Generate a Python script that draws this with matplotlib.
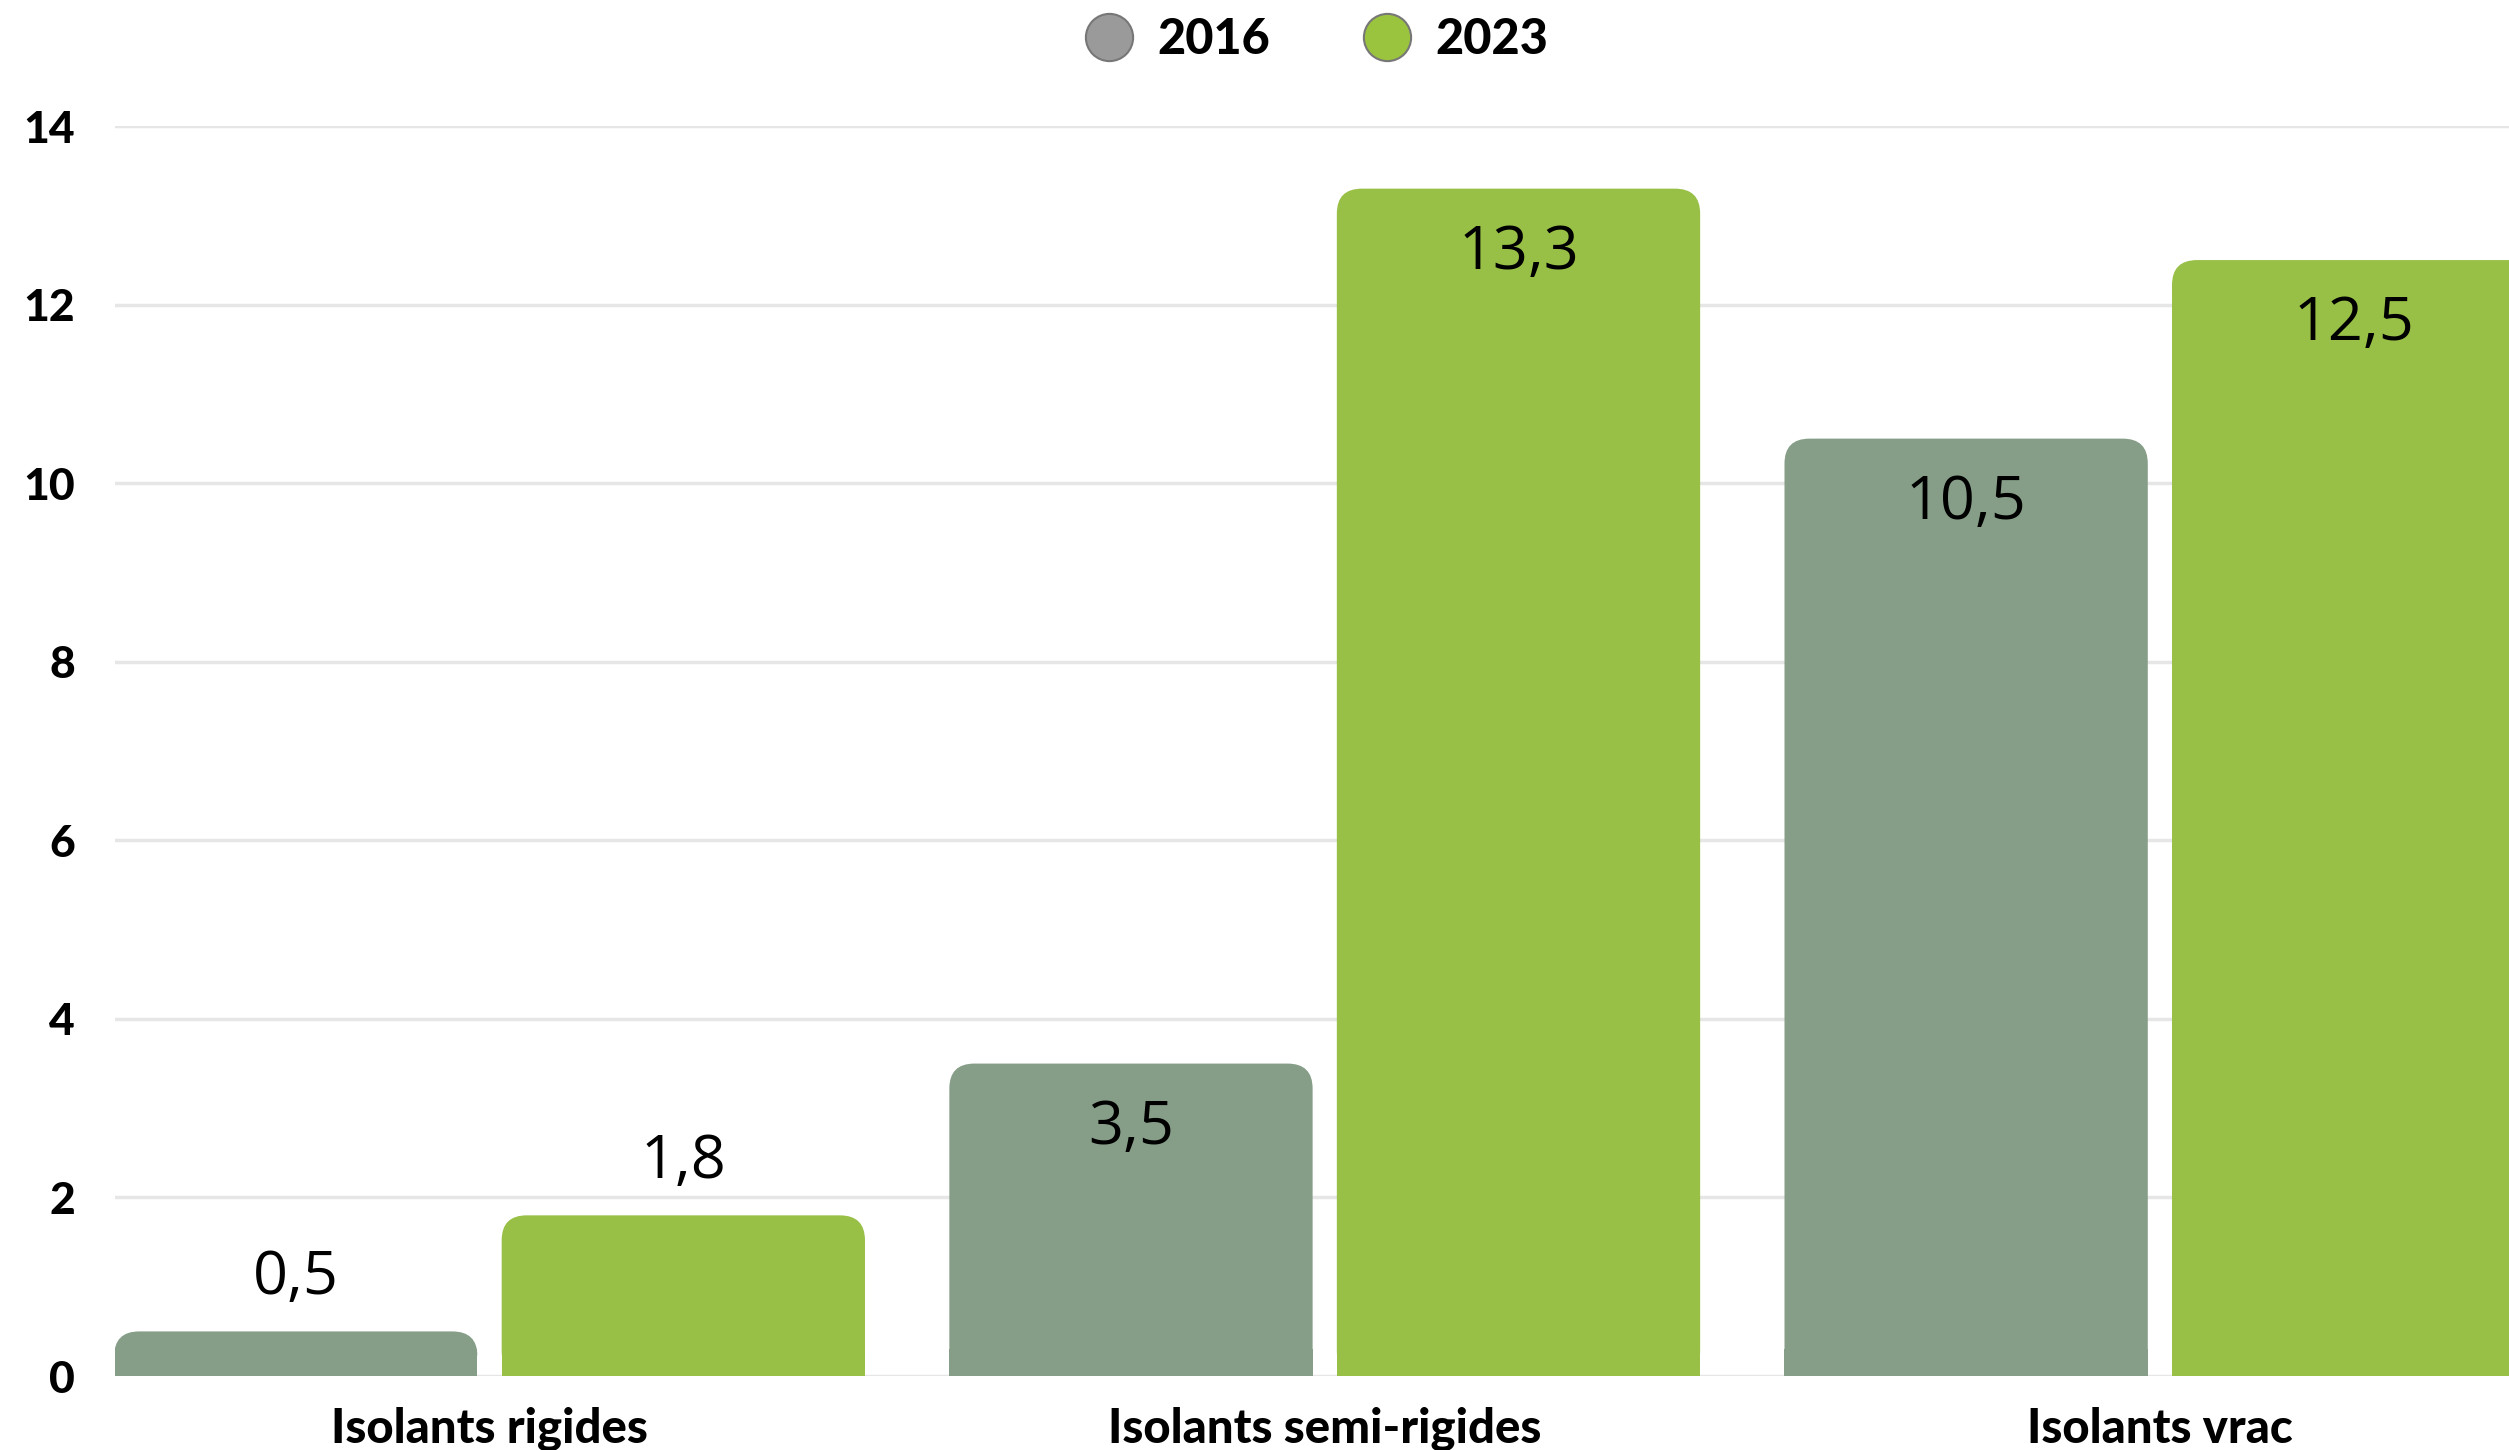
import matplotlib
matplotlib.use('Agg')
import matplotlib.pyplot as plt
from matplotlib.patches import FancyBboxPatch
from matplotlib.lines import Line2D
import numpy as np

# données
categories = ['Isolants rigides', 'Isolants semi-rigides', 'Isolants vrac']
years = ['2016', '2023']
vals_2016 = [0.5, 3.5, 10.5]
vals_2023 = [1.8, 13.3, 12.5]
labels_2016 = ['0,5', '3,5', '10,5']
labels_2023 = ['1,8', '13,3', '12,5']

col_2016 = '#869e88'
col_2023 = '#98bf46'
heavy = ['Lato', 'DejaVu Sans']
light = ['Open Sans', 'DejaVu Sans']

fig = plt.figure(figsize=(25.09, 14.5), dpi=100)
ax = fig.add_axes([0.046, 0.051, 0.954, 0.862])

x = np.arange(len(categories))
w = 0.435
off = 0.232
r = 0.03
asp = 9.3

for vals, labs, col, dx in [(vals_2016, labels_2016, col_2016, -off),
                            (vals_2023, labels_2023, col_2023, off)]:
    # petit bloc carré en bas pour cacher l'arrondi du bas
    ax.bar(x + dx, np.minimum(vals, 0.3), width=w, color=col, zorder=2)
    for xi, v, lab in zip(x, vals, labs):
        p = FancyBboxPatch((xi + dx - w / 2, 0), w, v,
                           boxstyle=f'round,pad=0,rounding_size={r}',
                           mutation_aspect=asp, facecolor=col,
                           edgecolor='none', zorder=2)
        ax.add_patch(p)
        if v > 3:
            ax.text(xi + dx, v - 0.72, lab, ha='center', va='center',
                    fontsize=44, family=light, color='black', zorder=3)
        else:
            ax.text(xi + dx, v + 0.6, lab, ha='center', va='center',
                    fontsize=44, family=light, color='black', zorder=3)

ax.set_xlim(-0.448, 2.418)
ax.set_ylim(0, 14)
ax.set_yticks(range(0, 15, 2))
ax.set_yticklabels([str(t) for t in range(0, 15, 2)], fontsize=32,
                   family=heavy, fontweight='black')
ax.set_xticks(x)
ax.set_xticklabels(categories, fontsize=34, family=heavy, fontweight='black')
ax.tick_params(length=0, pad=22)
ax.tick_params(axis='y', pad=29)
ax.grid(axis='y', color='#e6e6e6', linewidth=2.5, zorder=0)
ax.set_axisbelow(True)
for s in ax.spines.values():
    s.set_visible(False)

handles = [Line2D([], [], marker='o', linestyle='none', markersize=34,
                  markerfacecolor=c, markeredgecolor='#777777', markeredgewidth=1.5)
           for c in ('#9a9a9a', '#9ac43e')]
fig.legend(handles, years, loc='center', bbox_to_anchor=(0.52, 0.973), ncol=2,
           frameon=False, handletextpad=0.0, columnspacing=1.4,
           prop={'family': heavy, 'weight': 'black', 'size': 35})

fig.savefig('out.png', dpi=100)
